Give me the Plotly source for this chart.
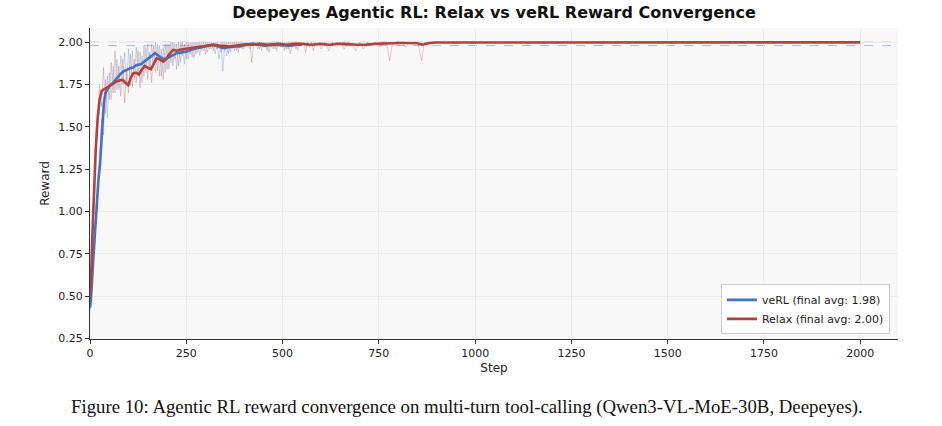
import plotly.graph_objects as go

# ---------------- data ----------------
title_text = "Deepeyes Agentic RL: Relax vs veRL Reward Convergence"
caption_text = "Figure 10: Agentic RL reward convergence on multi-turn tool-calling (Qwen3-VL-MoE-30B, Deepeyes)."

verl_final = 1.98
relax_final = 2.00

# raw (per-step) rewards, sampled
verl_raw_steps = list(range(0, 551, 5))
verl_raw = [
    0.40, 0.58, 0.80, 0.95, 1.12, 1.30, 1.55, 1.45, 1.78, 1.55, 1.82, 1.66, 1.86, 1.70, 1.90, 1.72,
    1.92, 1.75, 1.94, 1.76, 1.96, 1.74, 1.95, 1.78, 1.97, 1.80, 1.94, 1.76, 1.98, 1.82, 1.99, 1.84,
    1.99, 1.85, 2.00, 1.83, 1.98, 1.80, 1.97, 1.82, 1.99, 1.84, 2.00, 1.86, 1.99, 1.84, 2.00, 1.88,
    2.00, 1.87, 2.00, 1.90, 2.00, 1.91, 2.00, 1.93, 2.00, 1.92, 2.00, 1.95, 2.00, 1.94, 2.00, 1.96,
    2.00, 1.93, 2.00, 1.90, 2.00, 1.83, 2.00, 1.92, 2.00, 1.94, 2.00, 1.95, 2.00, 1.94, 2.00, 1.96,
    2.00, 1.97, 2.00, 1.96, 2.00, 1.98, 2.00, 1.96, 2.00, 1.95, 2.00, 1.97, 2.00, 1.94, 2.00, 1.96,
    2.00, 1.95, 2.00, 1.97, 2.00, 1.95, 2.00, 1.96, 2.00, 1.97, 2.00, 1.96, 2.00, 1.98, 2.00,
]

relax_raw_steps = list(range(0, 601, 5)) + [
    610, 620, 630, 640, 650, 660, 670, 680, 690, 700, 710, 720, 730, 740, 750, 760, 770, 778, 786,
    800, 810, 820, 830, 840, 850, 861, 868, 880, 890, 900, 940, 960, 1000, 1130, 1135, 1140, 1255,
    1258, 1262, 1500, 2000,
]
relax_raw = [
    0.42, 0.80, 1.20, 1.45, 1.60, 1.75, 1.62, 1.85, 1.58, 1.80, 1.66, 1.88, 1.70, 1.95, 1.72, 1.86,
    1.68, 1.90, 1.64, 1.84, 1.70, 1.93, 1.74, 1.90, 1.76, 1.95, 1.73, 1.92, 1.80, 1.97, 1.78, 1.94,
    1.76, 1.98, 1.82, 1.99, 1.80, 1.96, 1.78, 1.99, 1.84, 1.99, 1.88, 2.00, 1.90, 1.99, 1.86, 2.00,
    1.92, 1.99, 1.90, 2.00, 1.93, 2.00, 1.91, 2.00, 1.94, 2.00, 1.95, 2.00, 1.93, 2.00, 1.96, 2.00,
    1.95, 2.00, 1.96, 1.99, 1.94, 2.00, 1.95, 2.00, 1.93, 2.00, 1.96, 2.00, 1.95, 2.00, 1.97, 2.00,
    1.96, 2.00, 1.97, 2.00, 1.88, 2.00, 1.98, 2.00, 1.96, 2.00, 1.97, 2.00, 1.95, 2.00, 1.97, 2.00,
    1.96, 2.00, 1.98, 2.00, 1.97, 2.00, 1.96, 2.00, 1.93, 2.00, 1.97, 2.00, 1.95, 2.00, 1.98, 2.00,
    1.94, 2.00, 1.97, 2.00, 1.95, 2.00, 1.98, 2.00, 1.96,
    2.00, 1.95, 2.00, 1.97, 2.00, 1.96, 2.00, 1.98, 1.95, 2.00, 1.96, 2.00, 1.98, 2.00, 1.97, 2.00,
    2.00, 1.89, 2.00, 1.98, 2.00, 1.97, 2.00, 1.98, 2.00, 1.89, 2.00, 1.98, 2.00, 2.00, 1.99, 2.00,
    2.00, 2.00, 1.98, 2.00, 2.00, 1.985, 2.00, 2.00, 2.00,
]

# smoothed (moving-average) rewards
verl_smooth_steps = [
    0, 3, 8, 12, 17, 22, 26, 28, 32, 36, 40, 45, 52, 60, 70, 78, 86, 96, 104, 112, 121, 132, 140,
    147, 155, 162, 169, 178, 190, 200, 212, 225, 238, 251, 264, 277, 290, 305, 320, 333, 346, 360,
    375, 389, 405, 424, 440, 455, 476, 490, 505, 519, 535, 550,
]
verl_smooth = [
    0.43, 0.50, 0.70, 0.85, 1.00, 1.19, 1.28, 1.37, 1.50, 1.64, 1.70, 1.72, 1.745, 1.76, 1.79,
    1.81, 1.826, 1.84, 1.846, 1.85, 1.866, 1.87, 1.885, 1.895, 1.91, 1.925, 1.935, 1.92, 1.90,
    1.905, 1.92, 1.935, 1.94, 1.945, 1.955, 1.965, 1.97, 1.98, 1.985, 1.975, 1.965, 1.97, 1.975,
    1.975, 1.985, 1.99, 1.985, 1.98, 1.985, 1.983, 1.98, 1.98, 1.985, 1.985,
]

relax_smooth_steps = [
    0, 3, 6, 10, 15, 20, 25, 30, 35, 43, 50, 60, 70, 80, 86, 92, 99, 106, 112, 120, 127, 134, 142,
    150, 158, 165, 173, 180, 190, 198, 206, 216, 225, 233, 245, 259, 275, 293, 305, 320, 335, 350,
    363, 380, 395, 406, 420, 440, 460, 476, 490, 510, 530, 550, 575, 600, 622, 640, 660, 693, 705,
    718, 740, 760, 780, 800, 830, 850, 864, 880, 900, 950, 1000, 1050, 1100, 1133, 1160, 1258,
    1280, 1400, 1600, 1800, 2000,
]
relax_smooth = [
    0.50, 0.62, 0.85, 1.12, 1.37, 1.55, 1.66, 1.71, 1.72, 1.73, 1.74, 1.757, 1.77, 1.776, 1.776,
    1.76, 1.747, 1.79, 1.816, 1.82, 1.81, 1.836, 1.86, 1.85, 1.84, 1.87, 1.905, 1.90, 1.885, 1.90,
    1.93, 1.955, 1.95, 1.955, 1.96, 1.964, 1.97, 1.974, 1.98, 1.984, 1.98, 1.975, 1.974, 1.98,
    1.985, 1.988, 1.985, 1.99, 1.985, 1.99, 1.99, 1.985, 1.99, 1.99, 1.985, 1.99, 1.985, 1.99,
    1.99, 1.985, 1.984, 1.986, 1.99, 1.993, 1.993, 1.995, 1.995, 1.994, 1.985, 1.995, 1.998, 1.998,
    1.999, 1.999, 1.999, 1.995, 1.999, 1.996, 1.999, 1.999, 1.999, 1.999, 1.999,
]

x_ticks = [0, 250, 500, 750, 1000, 1250, 1500, 1750, 2000]
y_ticks = [0.25, 0.50, 0.75, 1.00, 1.25, 1.50, 1.75, 2.00]

# ---------------- style ----------------
BLUE = "#3F72C8"
RED = "#B5423A"
BLUE_RAW = "rgba(63,114,200,0.30)"
RED_RAW = "rgba(181,66,58,0.30)"

fig = go.Figure()

# final-average reference lines
fig.add_hline(y=relax_final, line=dict(color="#dca39e", width=1, dash="dash"), layer="below")
fig.add_hline(y=verl_final, line=dict(color="#a3bde8", width=1, dash="dash"), layer="below")

fig.add_trace(go.Scatter(x=verl_raw_steps, y=verl_raw, mode="lines",
                         line=dict(color=BLUE_RAW, width=0.9), showlegend=False, hoverinfo="skip"))
fig.add_trace(go.Scatter(x=relax_raw_steps, y=relax_raw, mode="lines",
                         line=dict(color=RED_RAW, width=0.9), showlegend=False, hoverinfo="skip"))
fig.add_trace(go.Scatter(x=verl_smooth_steps, y=verl_smooth, mode="lines",
                         line=dict(color=BLUE, width=2.6),
                         name=f"veRL (final avg: {verl_final:.2f})"))
fig.add_trace(go.Scatter(x=relax_smooth_steps, y=relax_smooth, mode="lines",
                         line=dict(color=RED, width=2.6),
                         name=f"Relax (final avg: {relax_final:.2f})"))

fig.update_layout(
    width=942, height=426,
    margin=dict(l=90, r=44, t=28, b=87, autoexpand=False),
    paper_bgcolor="white",
    plot_bgcolor="#f8f8f8",
    font=dict(family="DejaVu Sans", size=11, color="#222"),
    title=dict(text=f"<b>{title_text}</b>", x=0.5, xref="paper", xanchor="center",
               y=1 - 12 / 426, yref="container", yanchor="middle", automargin=False,
               font=dict(family="DejaVu Sans", size=16, color="#111")),
    legend=dict(x=0.99, y=0.015, xanchor="right", yanchor="bottom",
                bgcolor="rgba(255,255,255,0.9)", bordercolor="#cccccc", borderwidth=1,
                font=dict(size=11, color="#222"), itemwidth=30, tracegroupgap=0),
    showlegend=True,
    annotations=[dict(text=caption_text, x=0.467, xref="paper", y=0, yref="paper",
                      yanchor="middle", yshift=-68, showarrow=False,
                      font=dict(family="Liberation Serif", size=18.8, color="#111"))],
)

fig.update_xaxes(
    range=[0, 2098], tickvals=x_ticks, ticktext=[str(v) for v in x_ticks],
    showline=True, linecolor="#333", linewidth=1, mirror=False, automargin=False,
    ticks="outside", ticklen=4, tickcolor="#333", tickwidth=1,
    showgrid=True, gridcolor="#ebebeb", gridwidth=0.8, zeroline=False,
    title=dict(text="Step", font=dict(size=12), standoff=4),
)
fig.update_yaxes(
    range=[0.246, 2.084], tickvals=y_ticks, ticktext=[f"{v:.2f}" for v in y_ticks],
    showline=True, linecolor="#333", linewidth=1, mirror=False, automargin=False,
    ticks="outside", ticklen=4, tickcolor="#333", tickwidth=1,
    showgrid=True, gridcolor="#ebebeb", gridwidth=0.8, zeroline=False,
    title=dict(text="Reward", font=dict(size=12), standoff=6),
)

fig.write_html("out.html", config={"displayModeBar": False},
               post_script="document.body.style.margin='0';")
